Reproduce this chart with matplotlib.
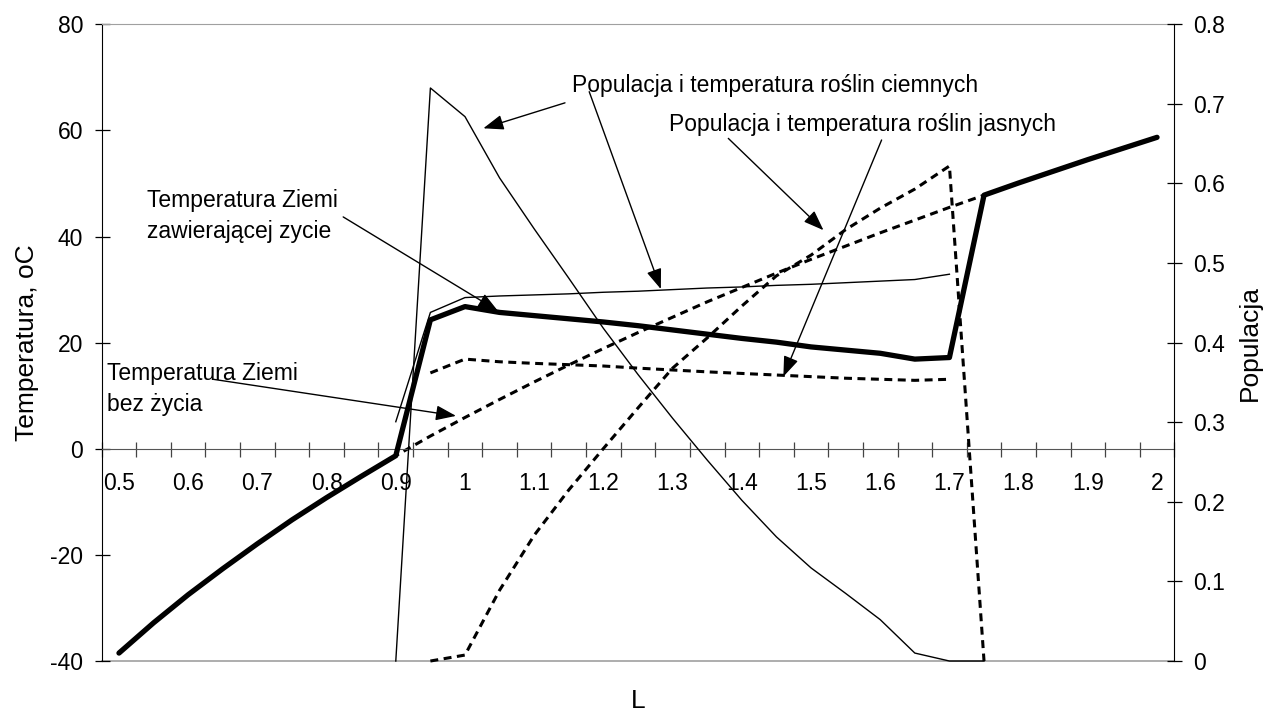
import matplotlib
matplotlib.use("Agg")
import matplotlib.pyplot as plt
import numpy as np
from matplotlib.ticker import FixedLocator, FixedFormatter, NullFormatter

plt.rcParams['font.family'] = ['Liberation Sans', 'DejaVu Sans']

# Solar luminosity L (categories of the x axis)
L = [0.5, 0.55, 0.6, 0.65, 0.7, 0.75, 0.8, 0.85, 0.9, 0.95, 1.0,
     1.05, 1.1, 1.15, 1.2, 1.25, 1.3, 1.35, 1.4, 1.45, 1.5,
     1.55, 1.6, 1.65, 1.7, 1.75, 1.8, 1.85, 1.9, 1.95, 2.0]
x_tick_labels = ['0.5', '0.6', '0.7', '0.8', '0.9', '1', '1.1', '1.2',
                 '1.3', '1.4', '1.5', '1.6', '1.7', '1.8', '1.9', '2']

# Planet temperature without life [oC]
t_no_life = [-38.5, -32.8, -27.5, -22.6, -17.9, -13.4, -9.2, -5.2, -1.3, 2.4, 5.9,
             9.3, 12.6, 15.8, 18.9, 21.9, 24.8, 27.7, 30.4, 33.1, 35.7,
             38.2, 40.7, 43.1, 45.5, 47.8, 50.1, 52.3, 54.5, 56.6, 58.7]
# Planet temperature with life [oC]
t_life = [-38.5, -32.8, -27.5, -22.6, -17.9, -13.4, -9.2, -5.2, -1.3, 24.3, 26.8,
          25.7, 25.1, 24.5, 23.9, 23.2, 22.4, 21.6, 20.8, 20.1, 19.2,
          18.6, 18.0, 16.9, 17.2, 47.8, 50.1, 52.3, 54.5, 56.6, 58.7]
# Dark plants: local temperature [oC] and population
t_dark = [None] * 8 + [5.1, 25.7, 28.5, 28.8, 29.0, 29.2, 29.5, 29.7, 30.0, 30.3,
                       30.5, 30.8, 31.0, 31.3, 31.6, 31.9, 32.9] + [None] * 6
p_dark = [None] * 8 + [0.0, 0.72, 0.684, 0.607, 0.543, 0.481, 0.418, 0.36, 0.305,
                       0.2525, 0.202, 0.156, 0.117, 0.085, 0.052, 0.01, 0.0, 0.0] + [None] * 5
# Light plants: local temperature [oC] and population
t_light = [None] * 9 + [14.3, 16.9, 16.4, 16.1, 15.85, 15.6, 15.2, 14.85, 14.5,
                        14.2, 13.9, 13.6, 13.3, 13.1, 12.9, 13.1] + [None] * 6
p_light = [None] * 9 + [0.0, 0.0075, 0.089, 0.158, 0.215, 0.267, 0.318, 0.368, 0.406,
                        0.446, 0.484, 0.51, 0.542, 0.569, 0.593, 0.622, 0.0] + [None] * 5


def arr(values):
    return np.array([np.nan if v is None else v for v in values], dtype=float)


FS = 16.5
FS_LABEL = 19
pos = np.arange(len(L))
dash = (0, (2.6, 1.8))

fig = plt.figure(figsize=(12.63, 7.13), dpi=100)
ax = fig.add_axes([0.0805, 0.0729, 0.8493, 0.8930])
ax2 = ax.twinx()

ax.set_xlim(-0.5, len(L) - 0.5)
ax.set_ylim(-40, 80)
ax2.set_ylim(0, 0.8)

# temperature curves (left axis)
ax.plot(pos, arr(t_no_life), color='black', lw=2.2, ls=dash, dash_capstyle='butt')
ax.plot(pos, arr(t_life), color='black', lw=3.8, solid_joinstyle='round',
        solid_capstyle='round', zorder=3)
ax.plot(pos, arr(t_dark), color='black', lw=1.0)
ax.plot(pos, arr(t_light), color='black', lw=2.2, ls=dash, dash_capstyle='butt')

# population curves (right axis)
ax2.plot(pos, arr(p_dark), color='black', lw=1.0, clip_on=False)
ax2.plot(pos, arr(p_light), color='black', lw=2.2, ls=dash, dash_capstyle='butt',
         clip_on=False)

# axes and frame
ax.spines['bottom'].set_position(('data', 0))
ax.spines['bottom'].set_color('#555555')
ax.spines['top'].set_color('#a0a0a0')
ax.spines['left'].set_color('black')
ax.spines['right'].set_visible(False)
ax.axhline(-40, color='#a0a0a0', lw=1.2, clip_on=False, zorder=0)
for s in ('top', 'bottom', 'left'):
    ax2.spines[s].set_visible(False)
ax2.spines['right'].set_color('black')

ax.xaxis.set_major_locator(FixedLocator(np.arange(-0.5, len(L), 1.0)))
ax.xaxis.set_major_formatter(NullFormatter())
ax.xaxis.set_minor_locator(FixedLocator(pos[::2]))
ax.xaxis.set_minor_formatter(FixedFormatter(x_tick_labels))
ax.tick_params(axis='x', which='major', direction='inout', length=10.8, width=0.9,
               color='#444444')
ax.tick_params(axis='x', which='minor', length=0, pad=17, labelsize=FS)

ax.set_yticks(np.arange(-40, 81, 20))
ax.set_yticklabels(['-40', '-20', '0', '20', '40', '60', '80'])
ax.tick_params(axis='y', direction='inout', length=10.8, width=0.9, pad=8, labelsize=FS)
ax2.set_yticks(np.arange(0, 0.81, 0.1))
ax2.set_yticklabels(['0', '0.1', '0.2', '0.3', '0.4', '0.5', '0.6', '0.7', '0.8'])
ax2.tick_params(axis='y', direction='inout', length=10.8, width=0.9, pad=8, labelsize=FS)

fig.text(27 / 1263, 1 - 342.7 / 713, 'Temperatura, oC', rotation=90, ha='center',
         va='center', fontsize=FS_LABEL)
fig.text(1250 / 1263, 1 - 342.7 / 713, 'Populacja', rotation=90, ha='center',
         va='center', fontsize=FS_LABEL)
fig.text(638 / 1263, 1 - 701 / 713, 'L', ha='center', va='center', fontsize=FS_LABEL)

# annotations (left-axis data coordinates)
arrow = dict(arrowstyle='-|>,head_length=0.75,head_width=0.28', color='black', lw=1.0,
             shrinkA=0, shrinkB=0, mutation_scale=FS)
ax.text(0.80, 43.9, 'Temperatura Ziemi\nzawierającej zycie', fontsize=FS,
        ha='left', va='center', linespacing=1.45)
ax.annotate('', xy=(10.95, 26.0), xytext=(6.48, 43.7), arrowprops=arrow)

ax.text(-0.355, 11.3, 'Temperatura Ziemi\nbez życia', fontsize=FS,
        ha='left', va='center', linespacing=1.45)
ax.annotate('', xy=(9.74, 6.2), xytext=(2.72, 13.1), arrowprops=arrow)

ax.text(13.08, 68.56, 'Populacja i temperatura roślin ciemnych', fontsize=FS,
        ha='left', va='center')
ax.annotate('', xy=(10.53, 60.4), xytext=(12.89, 65.2), arrowprops=arrow)
ax.annotate('', xy=(15.66, 30.1), xytext=(13.59, 67.3), arrowprops=arrow)

ax.text(15.9, 61.2, 'Populacja i temperatura roślin jasnych', fontsize=FS,
        ha='left', va='center')
ax.annotate('', xy=(20.36, 41.2), xytext=(17.61, 58.5), arrowprops=arrow)
ax.annotate('', xy=(19.2, 13.6), xytext=(22.04, 58.2), arrowprops=arrow)

fig.savefig('out.png', dpi=100)
